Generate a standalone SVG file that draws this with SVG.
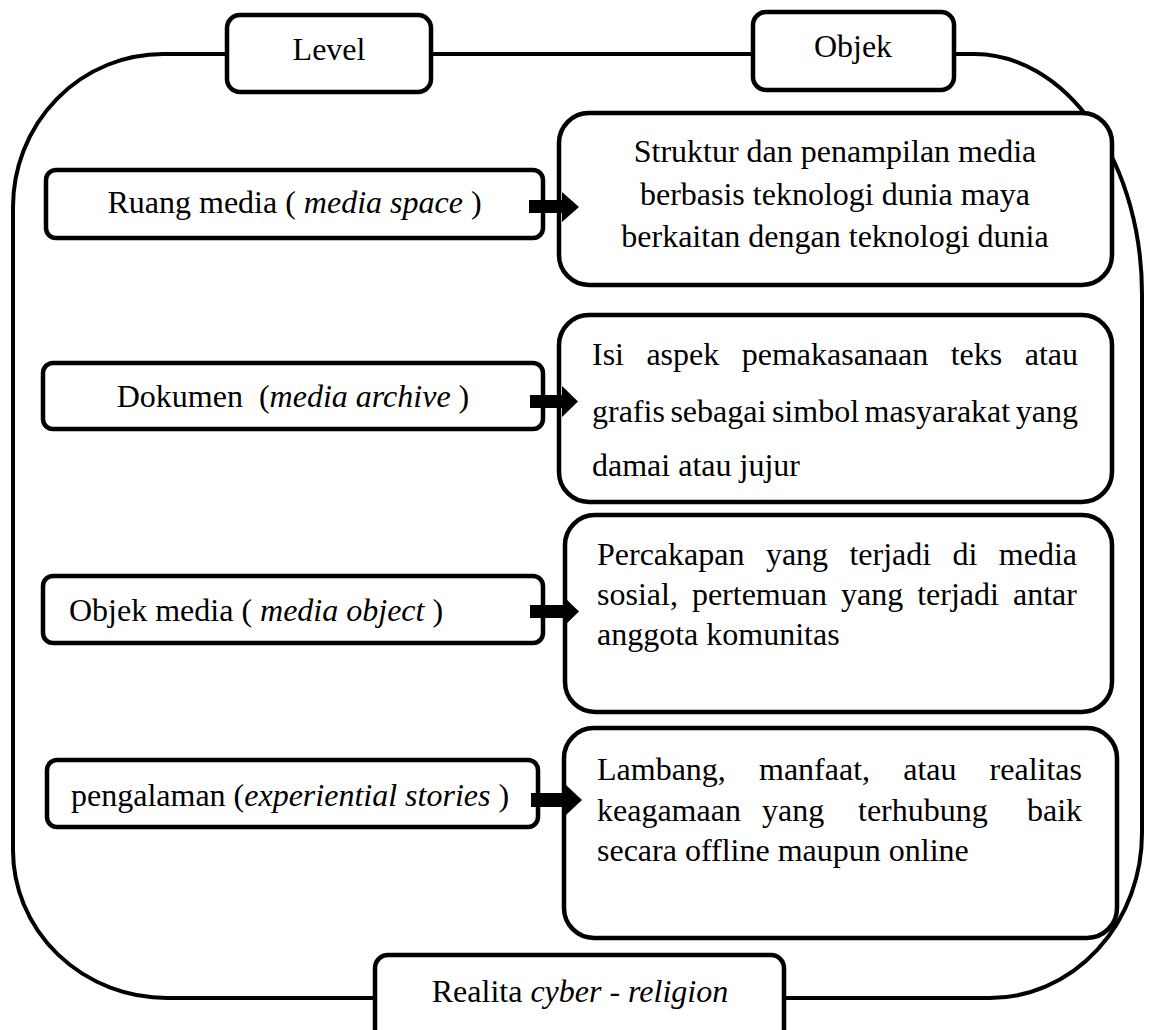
<svg xmlns="http://www.w3.org/2000/svg" width="1149" height="1030" viewBox="0 0 1149 1030">
<style>
.frame{fill:none;stroke:#000;stroke-width:4}
.box{fill:#fff;stroke:#000;stroke-width:4.5}
.arrow{fill:#000}
</style>
<rect width="1149" height="1030" fill="#fff"/>
<g id="frame">
<path class="frame" d="M163,54 H975 A168,240 0 0 1 1142,294 V833 A152,165 0 0 1 990,998 H167 A154,148 0 0 1 13,850 V207 A150,153 0 0 1 163,54 Z"/>
</g>
<g id="level">
<rect class="box" x="227" y="15" width="204" height="77" rx="13"/>
<text x="329" y="60" font-family="'Liberation Serif'" font-size="32" text-anchor="middle">Level</text>
</g>
<g id="objek">
<rect class="box" x="753" y="12" width="201" height="78" rx="13"/>
<text x="853" y="57" font-family="'Liberation Serif'" font-size="32" text-anchor="middle">Objek</text>
</g>
<g id="realita">
<rect class="box" x="375" y="955" width="409" height="100" rx="13"/>
<text x="580" y="1002" font-family="'Liberation Serif'" font-size="32" text-anchor="middle">Realita <tspan font-style="italic">cyber - religion</tspan></text>
</g>
<g id="ruang">
<rect class="box" x="46" y="170" width="497" height="68" rx="10"/>
<text x="294.5" y="213" font-family="'Liberation Serif'" font-size="32" text-anchor="middle">Ruang media ( <tspan font-style="italic">media space</tspan> )</text>
</g>
<g id="dokumen">
<rect class="box" x="43" y="363" width="500" height="66" rx="10"/>
<text x="293" y="407" font-family="'Liberation Serif'" font-size="32" text-anchor="middle" xml:space="preserve">Dokumen  (<tspan font-style="italic">media archive</tspan> )</text>
</g>
<g id="objekmedia">
<rect class="box" x="43" y="576" width="500" height="67" rx="10"/>
<text x="69" y="621" font-family="'Liberation Serif'" font-size="32">Objek media ( <tspan font-style="italic">media object</tspan> )</text>
</g>
<g id="pengalaman">
<rect class="box" x="47" y="760" width="491" height="67" rx="10"/>
<text x="71" y="806" font-family="'Liberation Serif'" font-size="32">pengalaman (<tspan font-style="italic">experiential stories</tspan> )</text>
</g>
<g id="obj1">
<rect class="box" x="559" y="113" width="553" height="172" rx="30"/>
<text x="835" y="162" font-family="'Liberation Serif'" font-size="32" text-anchor="middle">Struktur dan penampilan media</text>
<text x="835" y="204.5" font-family="'Liberation Serif'" font-size="32" text-anchor="middle">berbasis teknologi dunia maya</text>
<text x="835" y="247" font-family="'Liberation Serif'" font-size="32" text-anchor="middle">berkaitan dengan teknologi dunia</text>
</g>
<g id="obj2">
<rect class="box" x="559" y="315" width="553" height="187" rx="30"/>
<text y="365" font-family="'Liberation Serif'" font-size="32"><tspan x="592">Isi</tspan><tspan x="646.4">aspek</tspan><tspan x="741.7">pemakasanaan</tspan><tspan x="950.7">teks</tspan><tspan x="1024.7">atau</tspan></text>
<text y="422" font-family="'Liberation Serif'" font-size="32"><tspan x="592">grafis</tspan><tspan x="670.4">sebagai</tspan><tspan x="771.9">simbol</tspan><tspan x="864.5">masyarakat</tspan><tspan x="1015.7">yang</tspan></text>
<text x="592" y="476" font-family="'Liberation Serif'" font-size="32">damai atau jujur</text>
</g>
<g id="obj3">
<rect class="box" x="565" y="515" width="547" height="197" rx="30"/>
<text y="565" font-family="'Liberation Serif'" font-size="32"><tspan x="597">Percakapan</tspan><tspan x="765.9">yang</tspan><tspan x="849.4">terjadi</tspan><tspan x="952.5">di</tspan><tspan x="998.8">media</tspan></text>
<text y="605" font-family="'Liberation Serif'" font-size="32"><tspan x="597">sosial,</tspan><tspan x="691.9">pertemuan</tspan><tspan x="841">yang</tspan><tspan x="917.2">terjadi</tspan><tspan x="1013">antar</tspan></text>
<text x="597" y="645" font-family="'Liberation Serif'" font-size="32">anggota komunitas</text>
</g>
<g id="obj4">
<rect class="box" x="564" y="728" width="553" height="210" rx="30"/>
<text y="780" font-family="'Liberation Serif'" font-size="32"><tspan x="597">Lambang,</tspan><tspan x="759">manfaat,</tspan><tspan x="903.2">atau</tspan><tspan x="989.6">realitas</tspan></text>
<text y="821" font-family="'Liberation Serif'" font-size="32"><tspan x="597">keagamaan</tspan><tspan x="762">yang</tspan><tspan x="858">terhubung</tspan><tspan x="1027">baik</tspan></text>
<text x="597" y="861" font-family="'Liberation Serif'" font-size="32">secara offline maupun online</text>
</g>
<g id="connectors">
<path class="arrow" d="M529,200 H562 V192 L579,207 L562,222 V213 H529 Z"/>
<path class="arrow" d="M530,395 H562 V386 L578,401.5 L562,417 V408 H530 Z"/>
<path class="arrow" d="M530,605 H563 V596 L579,611.5 L563,627 V618 H530 Z"/>
<path class="arrow" d="M531,793 H566 V785 L582,800 L566,815 V807 H531 Z"/>
</g>
</svg>
